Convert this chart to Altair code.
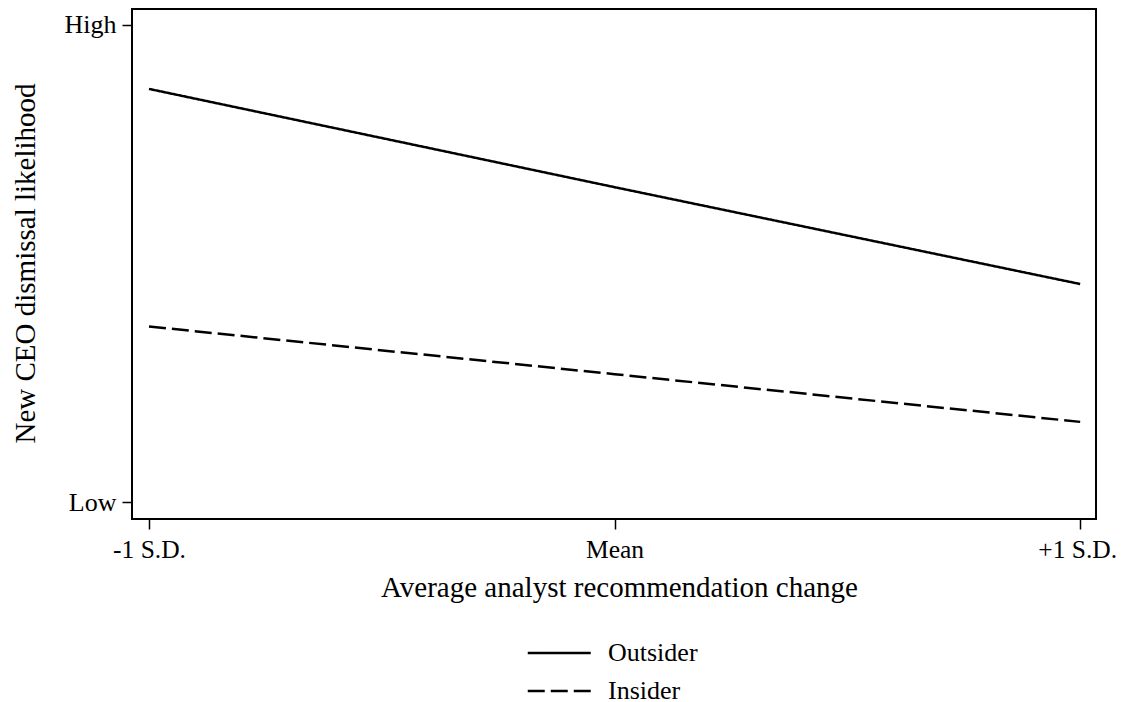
import altair as alt
import pandas as pd

x_vals = [-1, 0, 1]
outsider = [0.866, 0.660, 0.457]
insider = [0.368, 0.268, 0.168]
groups = ["Outsider", "Insider"]
x_tick_labels = ["-1 S.D.", "Mean", "+1 S.D."]
y_tick_labels = ["Low", "High"]

rows = []
for xv, o, i in zip(x_vals, outsider, insider):
    rows.append({"x": xv, "y": o, "group": groups[0]})
    rows.append({"x": xv, "y": i, "group": groups[1]})
df = pd.DataFrame(rows)

FONT = "Liberation Serif"

x_label_expr = (f"datum.value == -1 ? '{x_tick_labels[0]}' : "
                f"datum.value == 0 ? '{x_tick_labels[1]}' : '{x_tick_labels[2]}'")
y_label_expr = f"datum.value == 0 ? '{y_tick_labels[0]}' : '{y_tick_labels[1]}'"

chart = alt.Chart(df).mark_line(strokeWidth=2.5, color="black").encode(
    x=alt.X("x:Q",
            scale=alt.Scale(domain=[-1.0365, 1.034], nice=False, zero=False),
            axis=alt.Axis(values=x_vals, labelExpr=x_label_expr,
                          title="Average analyst recommendation change",
                          grid=False, domain=False, tickSize=10, tickWidth=1.5,
                          tickColor="black", labelFontSize=25.5, labelFont=FONT,
                          labelColor="black", labelPadding=8,
                          labelOffset={"condition": {"test": "datum.value == 1", "value": -3},
                                       "value": 0},
                          titleFontSize=29, titleFont=FONT, titleFontWeight="normal",
                          titleColor="black", titleBaseline="alphabetic",
                          titleAlign="center", titleX=487, titleY=77)),
    y=alt.Y("y:Q",
            scale=alt.Scale(domain=[-0.0356, 1.0335], nice=False, zero=False),
            axis=alt.Axis(values=[0, 1], labelExpr=y_label_expr,
                          title="New CEO dismissal likelihood",
                          grid=False, domain=False, tickSize=10, tickWidth=1.5,
                          tickColor="black", labelFontSize=26, labelFont=FONT,
                          labelColor="black", labelPadding=6,
                          titleFontSize=29, titleFont=FONT, titleFontWeight="normal",
                          titleColor="black", titleBaseline="alphabetic",
                          titleAlign="center", titleAngle=-90,
                          titleX=-98, titleY=254)),
    strokeDash=alt.StrokeDash(
        "group:N",
        scale=alt.Scale(domain=groups, range=[[1, 0], [17, 6]]),
        legend=alt.Legend(title=None, orient="none", legendX=426, legendY=627,
                          symbolType="M-3,0H1", symbolSize=992,
                          symbolStrokeWidth=2.5, symbolStrokeColor="black",
                          labelFontSize=26, labelFont=FONT, labelColor="black",
                          labelOffset=16, rowPadding=8, padding=0)),
).properties(
    width=964, height=510,
    autosize=alt.AutoSizeParams(type="none"),
    padding={"left": 124, "top": 1, "right": 21, "bottom": 186},
).configure_view(stroke="black", strokeWidth=2)

chart.save("out.html", embed_options={"renderer": "svg", "actions": False})
